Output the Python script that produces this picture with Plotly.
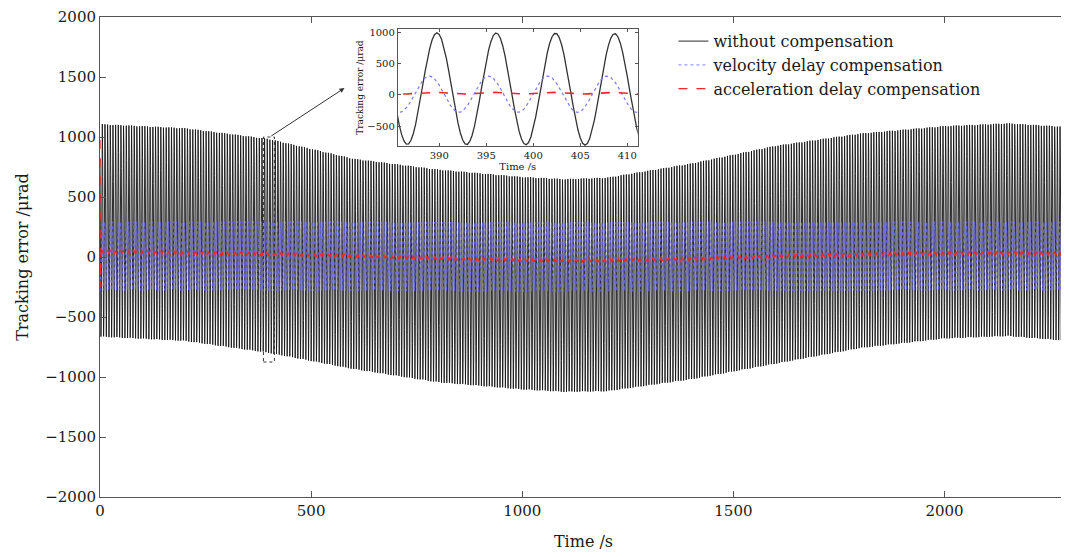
import numpy as np
import plotly.graph_objects as go

# envelope knots (time in s, error in urad)
env_t = [0, 200, 400, 600, 800, 1000, 1100, 1200, 1400, 1600, 1800, 2000, 2150, 2290]
black_upper = [1108, 1075, 985, 820, 730, 668, 650, 662, 780, 928, 1030, 1092, 1115, 1085]
black_lower = [-665, -700, -800, -935, -1045, -1105, -1125, -1120, -1020, -890, -760, -680, -660, -700]
blue_upper = [295, 295, 298, 296, 292, 290, 290, 291, 294, 296, 297, 296, 295, 295]
blue_lower = [-278, -278, -280, -282, -285, -288, -288, -287, -284, -281, -279, -278, -278, -279]
red_mid = [40, 36, 25, 10, -10, -25, -30, -28, -15, 5, 20, 30, 32, 28]
red_amp = [14, 14, 14, 13, 13, 13, 13, 13, 13, 13, 14, 14, 14, 14]

# oscillation
period = 6.3
black_peak_t = 389.76
blue_peak_t = 388.95
red_peak_t = 389.2

# start-up transient of the red curve
red_start_t = [0, 0.3, 0.8]
red_start_v = [975, -250, 40]

inset_x_ticks = [390, 395, 400, 405, 410]
inset_y_ticks = [-500, 0, 500, 1000]

names = ["without compensation", "velocity delay compensation", "acceleration delay compensation"]

t = np.arange(0, 2290, 0.25)


def wave(upper, lower, peak_t):
    hi = np.interp(t, env_t, upper)
    lo = np.interp(t, env_t, lower)
    return (hi + lo) / 2 + (hi - lo) / 2 * np.cos(2 * np.pi * (t - peak_t) / period)


black = wave(black_upper, black_lower, black_peak_t)
blue = wave(blue_upper, blue_lower, blue_peak_t)
rm = np.interp(t, env_t, red_mid)
ra = np.interp(t, env_t, red_amp)
red = rm + ra * np.cos(2 * np.pi * (t - red_peak_t) / period)
keep = t > red_start_t[-1]
red_t = np.concatenate([red_start_t, t[keep]])
red = np.concatenate([red_start_v, red[keep]])

FONT = "DejaVu Serif"
c_black = "#151515"
c_blue = "#6a6af8"
c_red = "#f02828"

fig = go.Figure()
# main plot
fig.add_trace(go.Scatter(x=t, y=black, mode="lines", name=names[0],
                         line=dict(color=c_black, width=0.9)))
fig.add_trace(go.Scatter(x=t, y=blue, mode="lines", name=names[1], opacity=0.85,
                         line=dict(color=c_blue, width=1.0, dash="dot")))
fig.add_trace(go.Scatter(x=red_t, y=red, mode="lines", name=names[2],
                         line=dict(color=c_red, width=1.3, dash="dash")))

# inset
win = (t > 384) & (t < 412)
rwin = (red_t > 384) & (red_t < 412)
fig.add_trace(go.Scatter(x=t[win], y=black[win], mode="lines", showlegend=False,
                         xaxis="x2", yaxis="y2", line=dict(color="#333333", width=1.3)))
fig.add_trace(go.Scatter(x=t[win], y=blue[win], mode="lines", showlegend=False,
                         xaxis="x2", yaxis="y2", line=dict(color="#7a7af5", width=1.2, dash="dot")))
fig.add_trace(go.Scatter(x=red_t[rwin], y=red[rwin], mode="lines", showlegend=False,
                         xaxis="x2", yaxis="y2", line=dict(color=c_red, width=1.6, dash="dash")))

axis_common = dict(showline=True, linecolor="#555555", linewidth=1, mirror="ticks",
                   ticks="inside", tickcolor="#555555", showgrid=False, zeroline=False,
                   automargin=False)

# the page body adds an 8px offset, so the figure is sized 8px smaller
fig.update_layout(
    width=1061, height=549,
    margin=dict(l=92, r=2, t=9, b=60),
    paper_bgcolor="white", plot_bgcolor="white",
    font=dict(family=FONT, color="#1a1a1a", size=15),
    xaxis=dict(range=[0, 2290], tickvals=[0, 500, 1000, 1500, 2000], ticklen=6,
               title=dict(text="Time /s", font=dict(size=16), standoff=16), **axis_common),
    yaxis=dict(range=[-2000, 2000], dtick=500, ticklen=6,
               title=dict(text="Tracking error /μrad", font=dict(size=16), standoff=12), **axis_common),
    xaxis2=dict(domain=[0.308, 0.556], anchor="y2", range=[385.6, 411.1], tickvals=inset_x_ticks,
                ticklen=3, tickfont=dict(size=10),
                title=dict(text="Time /s", font=dict(size=10), standoff=2), **axis_common),
    yaxis2=dict(domain=[0.731, 0.975], anchor="x2", range=[-820, 1050], tickvals=inset_y_ticks,
                ticklen=3, tickfont=dict(size=10),
                title=dict(text="Tracking error /μrad", font=dict(size=9), standoff=2), **axis_common),
    legend=dict(x=0.593, y=0.985, xanchor="left", yanchor="top", bgcolor="rgba(0,0,0,0)",
                font=dict(size=16), tracegroupgap=0, itemwidth=30),
    shapes=[dict(type="rect", xref="x", yref="y", x0=387, x1=413, y0=-875, y1=1000,
                 line=dict(color="#333333", width=1, dash="dot"))],
    annotations=[dict(x=579, y=1408, ax=402, ay=1000, xref="x", yref="y", axref="x", ayref="y",
                      text="", showarrow=True, arrowhead=2, arrowsize=1, arrowwidth=1,
                      arrowcolor="#333333")],
)

fig.write_html("out.html")
